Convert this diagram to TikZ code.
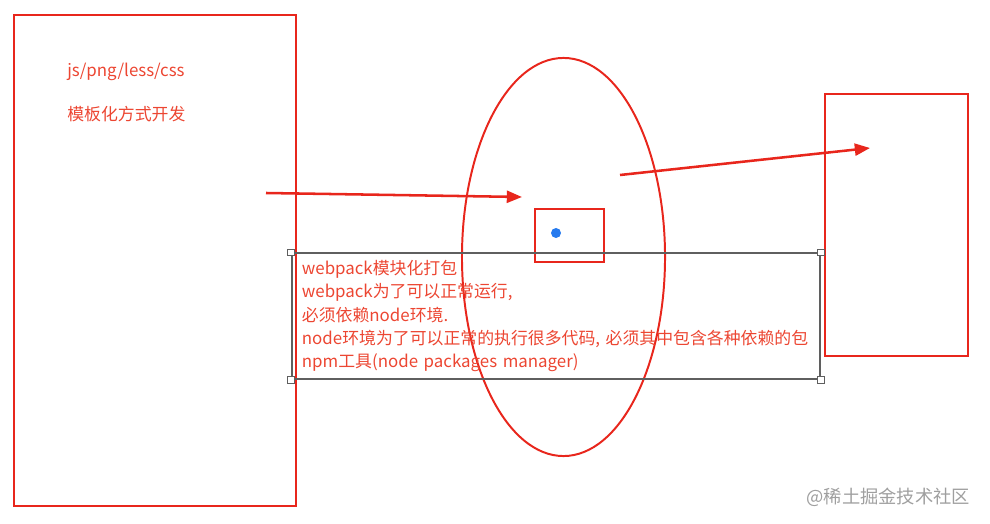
\documentclass[tikz,border=0pt]{standalone}
\usepackage{fontspec}
\setmainfont{Noto Sans CJK SC}
\usetikzlibrary{arrows.meta,positioning,shapes.geometric}
\definecolor{redline}{RGB}{232,38,28}
\definecolor{redtext}{RGB}{236,70,50}
\definecolor{boxgray}{RGB}{95,95,95}
\definecolor{dotblue}{RGB}{38,122,238}

\begin{document}
\begin{tikzpicture}[x=0.025cm,y=-0.025cm,
   panel/.style={draw=redline,line width=1.4pt,inner sep=0pt,outer sep=0pt},
   label/.style={text=redtext,font=\fontsize{12}{16.6}\selectfont,inner sep=0pt},
   handle/.style={draw=boxgray,fill=white,line width=0.6pt,minimum size=0.17cm,inner sep=0pt},
   redarrow/.style={draw=redline,line width=1.8pt,-{Triangle[length=0.38cm,width=0.3cm]}}]
   \useasboundingbox (0,0) rectangle (990,524);
   % three stages
   \node[panel,minimum width=7.05cm,minimum height=12.275cm] (src) at (155,260.5) {};
   \node[panel,ellipse,minimum width=5.075cm,minimum height=9.95cm] (pack) at (563.5,257) {};
   \node[panel,minimum width=1.725cm,minimum height=1.325cm] (core) at (569.5,235.5) {};
   \node[circle,fill=dotblue,minimum size=0.25cm,inner sep=0pt] (dot) at (556,233) {};
   \node[panel,minimum width=3.575cm,minimum height=6.55cm] (out) at (896.5,225) {};
   % labels in the source box
   \node[label,anchor=west] (types) at (67,72) {js/png/less/css};
   \node[label,anchor=west] (mode) at (67,114) {模板化方式开发};
   % arrows
   \coordinate (in1) at (266,193);
   \coordinate (in2) at (522,197);
   \coordinate (out1) at (620,175);
   \coordinate (out2) at (870,148);
   \draw[redarrow] (in1) -- (in2);
   \draw[redarrow] (out1) -- (out2);
   % selected note
   \node[draw=boxgray,line width=0.9pt,minimum width=13.2cm,minimum height=3.15cm,
         text width=12.7cm,inner xsep=0.25cm,align=left,label] (note) at (556,316)
      {webpack模块化打包\\
       webpack为了可以正常运行,\\
       必须依赖node环境.\\
       node环境为了可以正常的执行很多代码, 必须其中包含各种依赖的包\\
       npm工具(node packages manager)};
   \foreach \c in {north west,north east,south west,south east}
      \node[handle] at (note.\c) {};
   % watermark
   \node[text=gray!75,font=\fontsize{13}{15}\selectfont,anchor=east] (mark) at (975,497) {@稀土掘金技术社区};
\end{tikzpicture}
\end{document}
